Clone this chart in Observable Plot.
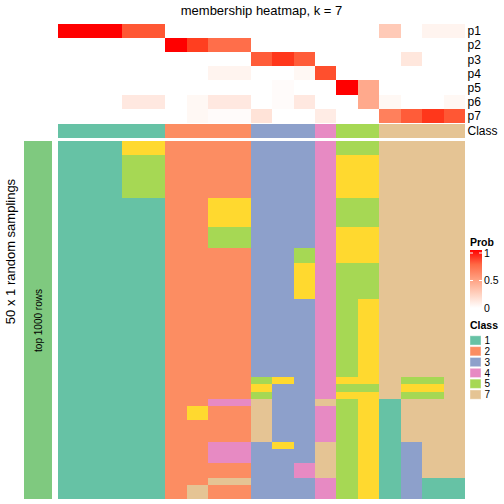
<!DOCTYPE html>
<html><head><meta charset="utf-8">
<script src="https://cdn.jsdelivr.net/npm/d3@7"></script>
<script src="https://cdn.jsdelivr.net/npm/@observablehq/plot@0.6"></script>
<style>
body{margin:0;background:#fff;}
#c{position:relative;width:504px;height:504px;overflow:hidden;font-family:"Liberation Sans",Arial,sans-serif;background:#fff;}
#c svg{position:absolute;left:0;top:0;}
</style></head><body><div id="c"></div>
<script>
// ---------- data ----------
const sampleIds = ["s1","s2","s3","s4","s5","s6","s7","s8","s9","s10","s11","s12","s13","s14","s15","s16","s17","s18","s19"];
const probRows = ["p1","p2","p3","p4","p5","p6","p7"];
const p1 = [1,1,1,0.82,0.82,0,0,0,0,0,0,0,0,0,0,0.28,0,0.06,0.06];
const p2 = [0,0,0,0,0,1,0.9,0.73,0.73,0,0,0,0,0,0,0,0,0,0];
const p3 = [0,0,0,0,0,0,0,0,0,0.8,0.92,0.8,0,0,0,0,0.13,0,0];
const p4 = [0,0,0,0,0,0,0,0.06,0.06,0,0,0.04,0.85,0,0,0,0,0,0];
const p5 = [0,0,0,0,0,0,0,0,0,0,0.02,0,0,1,0.45,0,0,0,0];
const p6 = [0,0,0,0.12,0.12,0,0.04,0.12,0.12,0,0.02,0.12,0,0,0.45,0.04,0,0,0.04];
const p7 = [0,0,0,0,0,0,0.04,0.02,0.02,0.15,0,0,0.1,0,0,0.65,0.8,0.92,0.82];
const sampleClass = [1,1,1,1,1,2,2,2,2,3,3,3,4,5,5,7,7,7,7];
// class per sampling (50 rows) for each column, as [class, run length] from top
const colRuns = [
  [[1,50]],
  [[1,50]],
  [[1,50]],
  [[6,2],[5,6],[1,42]],
  [[6,2],[5,6],[1,42]],
  [[2,50]],
  [[2,37],[6,2],[2,9],[7,2]],
  [[2,8],[6,4],[5,3],[2,21],[4,1],[2,5],[4,3],[2,2],[7,1],[2,2]],
  [[2,8],[6,4],[5,3],[2,21],[4,1],[2,5],[4,3],[2,2],[7,1],[2,2]],
  [[3,33],[5,1],[6,1],[5,1],[7,6],[3,8]],
  [[3,33],[6,1],[3,8],[6,1],[3,7]],
  [[3,15],[5,2],[6,5],[3,23],[4,2],[3,3]],
  [[4,36],[7,1],[4,5],[7,5],[4,3]],
  [[5,2],[6,6],[5,4],[6,5],[5,16],[6,1],[5,1],[6,1],[5,14]],
  [[5,2],[6,6],[5,4],[6,5],[5,5],[6,12],[5,1],[6,15]],
  [[7,36],[1,14]],
  [[7,33],[5,1],[6,1],[5,1],[7,6],[3,8]],
  [[7,33],[5,1],[6,1],[5,1],[7,11],[1,3]],
  [[7,47],[1,3]]
];
const classDomain = [1,2,3,4,5,6,7];
const classColors = ["#66C2A5","#FC8D62","#8DA0CB","#E78AC3","#A6D854","#FFD92F","#E5C494"];
const legendClasses = [1,2,3,4,5,7];
const probTicks = [0,0.5,1];
const titleText = "membership heatmap, k = 7";
const rowTitle = "50 x 1 random samplings";
const groupLabel = "top 1000 rows";

// ---------- derived tables ----------
const probSeries = {p1,p2,p3,p4,p5,p6,p7};
const probData = probRows.flatMap(r => sampleIds.map((s,i) => ({row:r, sample:s, prob:probSeries[r][i]})));
const classRowData = sampleIds.map((s,i) => ({row:"Class", sample:s, cls:sampleClass[i]}));
const gridData = [];
colRuns.forEach((runs, ci) => {
  let r = 0;
  runs.forEach(([cls, n]) => { for (let k = 0; k < n; k++) { gridData.push({sample:sampleIds[ci], rep:r, cls}); r++; } });
});
const repIds = d3.range(50);

const FONT = '"Liberation Sans", Arial, sans-serif';
const W = 504, H = 504;
const X0 = 58, X1 = 465;
const container = document.getElementById("c");
const baseStyle = {fontFamily: FONT, color: "black", background: "transparent", overflow: "visible"};
const probColor = {type:"linear", domain:[0,1], range:["white","red"], interpolate: d3.interpolateLab};
const classColor = {type:"ordinal", domain: classDomain, range: classColors};
const xBand = {type:"band", domain: sampleIds, padding: 0, round: false, axis: null};

// probability rows
container.appendChild(Plot.plot({
  width: W, height: H,
  marginLeft: X0, marginRight: W - X1, marginTop: 24, marginBottom: H - 122.7,
  x: xBand,
  y: {type:"band", domain: probRows, padding: 0, round: false, axis: "right", tickSize: 0, tickPadding: 2, label: null},
  color: probColor,
  style: {...baseStyle, fontSize: "12px"},
  marks: [Plot.cell(probData, {x:"sample", y:"row", fill:"prob", inset: 0, shapeRendering:"crispEdges"})]
}));

// class annotation row
container.appendChild(Plot.plot({
  width: W, height: H,
  marginLeft: X0, marginRight: W - X1, marginTop: 123.7, marginBottom: H - 137.7,
  x: xBand,
  y: {type:"band", domain: ["Class"], padding: 0, round: false, axis: "right", tickSize: 0, tickPadding: 2, label: null},
  color: classColor,
  style: {...baseStyle, fontSize: "12px"},
  marks: [Plot.cell(classRowData, {x:"sample", y:"row", fill:"cls", inset: 0, shapeRendering:"crispEdges"})]
}));

// samplings grid
container.appendChild(Plot.plot({
  width: W, height: H,
  marginLeft: X0, marginRight: W - X1, marginTop: 141, marginBottom: H - 499,
  x: xBand,
  y: {type:"band", domain: repIds, padding: 0, round: false, axis: null},
  color: classColor,
  style: baseStyle,
  marks: [Plot.cell(gridData, {x:"sample", y:"rep", fill:"cls", inset: 0, shapeRendering:"crispEdges"})]
}));

// left group bar
container.appendChild(Plot.plot({
  width: W, height: H,
  marginLeft: 24, marginRight: W - 52, marginTop: 141, marginBottom: H - 499,
  x: {type:"band", domain: [groupLabel], padding: 0, round: false, axis: null},
  y: {type:"band", domain: [groupLabel], padding: 0, round: false, axis: null},
  style: baseStyle,
  marks: [
    Plot.cell([groupLabel], {x: d => d, y: d => d, fill: "#7FC97F", inset: 0, shapeRendering:"crispEdges"}),
    Plot.text([groupLabel], {x: d => d, y: d => d, text: d => d, rotate: -90, fontSize: 10, fill: "black"})
  ]
}));

// class legend
container.appendChild(Plot.plot({
  width: W, height: H,
  marginLeft: 470, marginRight: W - 481, marginTop: 335, marginBottom: H - 400,
  x: {type:"band", domain: ["Class"], padding: 0, round: false, axis: null},
  y: {type:"band", domain: legendClasses, padding: 0, round: false, axis: "right", tickSize: 0, tickPadding: 3, label: null},
  color: classColor,
  style: {...baseStyle, fontSize: "10px"},
  marks: [Plot.cell(legendClasses, {x: () => "Class", y: d => d, fill: d => d, insetTop: 0.8, insetBottom: 0.8, stroke: "white", strokeOpacity: 0.4})]
}));

// texts and probability legend
const svg = d3.select(container).append("svg").attr("width", W).attr("height", H)
  .style("font-family", FONT);
svg.append("text").attr("x", (X0 + X1) / 2).attr("y", 15).attr("text-anchor", "middle")
  .attr("font-size", 13).text(titleText);
svg.append("text").attr("transform", "translate(15,251.5) rotate(-90)").attr("text-anchor", "middle")
  .attr("font-size", 13).text(rowTitle);
svg.append("text").attr("x", 470).attr("y", 246).attr("font-size", 10.5).attr("font-weight", "bold").text("Prob");
svg.append("text").attr("x", 470).attr("y", 329).attr("font-size", 10.5).attr("font-weight", "bold").text("Class");
const gy = d3.scaleLinear().domain([0,1]).range([308,253]);
const defs = svg.append("defs");
const grad = defs.append("linearGradient").attr("id", "pg").attr("x1", 0).attr("y1", 1).attr("x2", 0).attr("y2", 0);
const interp = d3.interpolateLab("white", "red");
[0,0.25,0.5,0.75,1].forEach(t => grad.append("stop").attr("offset", t).attr("stop-color", interp(t)));
svg.append("rect").attr("x", 470).attr("y", 250).attr("width", 12).attr("height", 58).attr("fill", "url(#pg)");
probTicks.forEach(t => {
  if (t > 0) {
    svg.append("line").attr("x1", 470).attr("x2", 473).attr("y1", gy(t)).attr("y2", gy(t)).attr("stroke", "white").attr("stroke-width", 1);
    svg.append("line").attr("x1", 479).attr("x2", 482).attr("y1", gy(t)).attr("y2", gy(t)).attr("stroke", "white").attr("stroke-width", 1);
  }
  svg.append("text").attr("x", 484).attr("y", gy(t)).attr("dy", "0.35em").attr("font-size", 10.5).text(t);
});
</script></body></html>
